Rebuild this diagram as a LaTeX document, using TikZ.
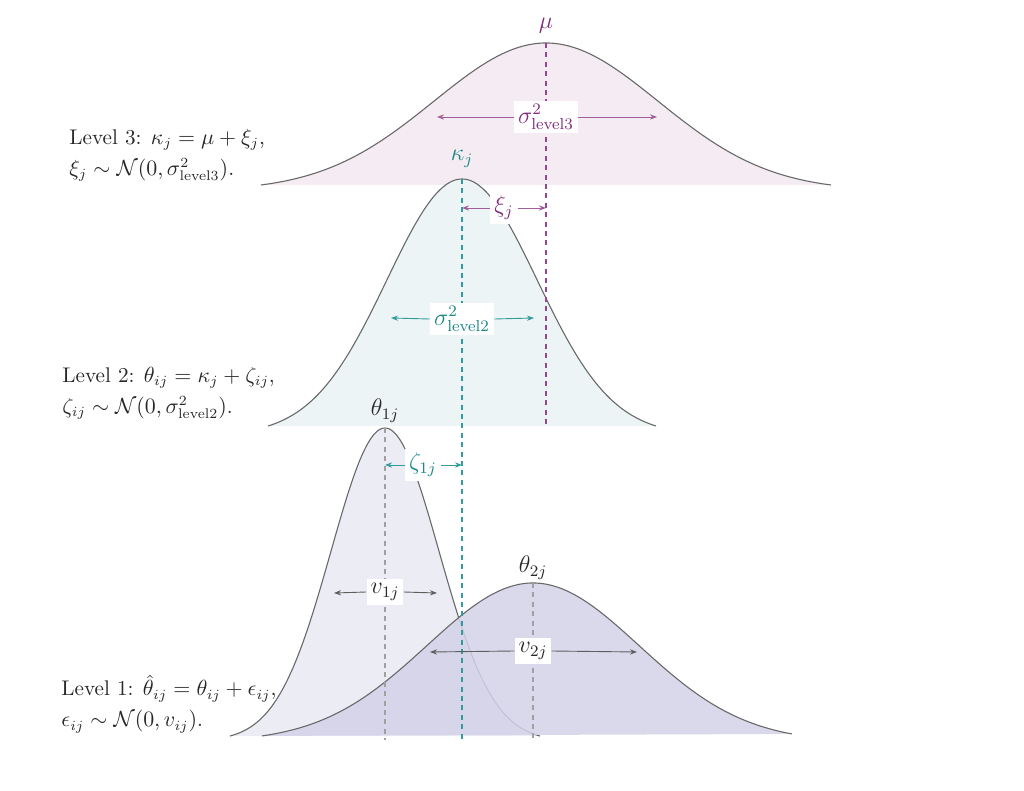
\documentclass[tikz,border=0pt]{standalone}
\usetikzlibrary{arrows.meta}
\definecolor{purp}{RGB}{130,45,125}
\definecolor{purpl}{RGB}{160,95,155}
\definecolor{purpd}{RGB}{150,70,145}
\definecolor{pinkfill}{RGB}{245,235,243}
\definecolor{tealc}{RGB}{30,135,135}
\definecolor{teald}{RGB}{50,155,155}
\definecolor{bluefill}{RGB}{236,244,246}
\definecolor{lavfill}{RGB}{236,236,244}
\definecolor{lavdark}{RGB}{212,210,233}
\definecolor{curvegray}{RGB}{105,105,105}
\definecolor{dashgray}{RGB}{160,160,160}
\definecolor{txt}{RGB}{40,40,40}
\begin{document}
\begin{tikzpicture}[x=0.5pt,y=-0.5pt,
  curve/.style={draw=curvegray,line width=0.55pt},
  vdash/.style={dash pattern=on 2.5pt off 2.2pt,line width=0.7pt},
  span/.style={->,>={Stealth[length=3.5pt,width=2.6pt]},line width=0.45pt},
  lbl/.style={font=\fontsize{12}{14}\selectfont, fill=white, inner sep=2pt},
  toplbl/.style={font=\fontsize{12}{14}\selectfont, inner sep=1pt},
  lvl/.style={font=\fontsize{10.6}{15.5}\selectfont, align=left, anchor=west, inner sep=0pt, text=txt},
  declare function={g(\t,\c,\s,\d)=(exp(-0.5*((\t-\c)/\s)^2)-exp(-0.5*(\d/\s)^2))/(1-exp(-0.5*(\d/\s)^2));}]
\useasboundingbox (0,0) rectangle (1024,791);

% ---- Level 3 ----
\fill[pinkfill] plot[domain=261:831,samples=161,smooth] (\x,{185-142*g(\x,546,112,285)}) -- cycle;
\draw[curve] plot[domain=261:831,samples=161,smooth] (\x,{185-142*g(\x,546,112,285)});

% ---- Level 2 ----
\fill[bluefill] plot[domain=268:656,samples=161,smooth] (\x,{426-247*g(\x,462,75,194)}) -- cycle;
\draw[curve] plot[domain=268:656,samples=161,smooth] (\x,{426-247*g(\x,462,75,194)});

% ---- Level 1, study 1 ----
\fill[lavfill] plot[domain=230:540,samples=161,smooth] (\x,{736-308*g(\x,385,54,155)}) -- cycle;
\draw[curve] plot[domain=230:540,samples=161,smooth] (\x,{736-308*g(\x,385,54,155)});

% ---- Level 1, study 2 ----
\fill[lavdark,opacity=0.85] plot[domain=262:792,samples=161,smooth] (\x,{735-152*g(\x,533,106,265)}) -- cycle;
\draw[curve] plot[domain=262:792,samples=161,smooth] (\x,{735-152*g(\x,533,106,265)});

% ---- coordinates ----
\coordinate (mutop) at (546,43);
\coordinate (mubot) at (546,428);
\coordinate (ktop) at (462,179);
\coordinate (kbot) at (462,740);
\coordinate (t1top) at (385,428);
\coordinate (t1bot) at (385,740);
\coordinate (t2top) at (533,583);
\coordinate (t2bot) at (533,740);

% ---- dashed lines ----
\draw[vdash,purpd] (mutop) -- (mubot);
\draw[vdash,teald] (ktop) -- (kbot);
\draw[vdash,dashgray] (t1top) -- (t1bot);
\draw[vdash,dashgray] (t2top) -- (t2bot);

% ---- labels ----
\node[toplbl,text=purp] (mu) at (546,26) {$\mu$};
\node[toplbl,text=tealc] (kap) at (462,159) {$\kappa_j$};
\node[toplbl,text=txt] (th1) at (385,411) {$\theta_{1j}$};
\node[toplbl,text=txt] (th2) at (533,568) {$\theta_{2j}$};

\node[lbl,text=purp] (s3) at (546,117) {$\sigma^2_{\mathrm{level3}}$};
\coordinate (s3l) at (437,117);
\coordinate (s3r) at (657,117);
\draw[span,purpl] (s3.west) -- (s3l);
\draw[span,purpl] (s3.east) -- (s3r);

\node[lbl,text=purp] (xi) at (504,208) {$\xi_j$};
\coordinate (xil) at (462,208);
\coordinate (xir) at (546,208);
\draw[span,purpl] (xi.west) -- (xil);
\draw[span,purpl] (xi.east) -- (xir);

\node[lbl,text=tealc] (s2) at (462,319) {$\sigma^2_{\mathrm{level2}}$};
\coordinate (s2l) at (391,318);
\coordinate (s2r) at (534,318);
\draw[span,teald] (s2.west) -- (s2l);
\draw[span,teald] (s2.east) -- (s2r);

\node[lbl,text=tealc] (ze) at (423,465) {$\zeta_{1j}$};
\coordinate (zel) at (385,465);
\coordinate (zer) at (462,465);
\draw[span,teald] (ze.west) -- (zel);
\draw[span,teald] (ze.east) -- (zer);

\node[lbl,text=txt] (v1) at (385,592) {$v_{1j}$};
\coordinate (v1l) at (334,593);
\coordinate (v1r) at (437,593);
\draw[span,txt!75] (v1.west) -- (v1l);
\draw[span,txt!75] (v1.east) -- (v1r);

\node[lbl,text=txt] (v2) at (533,651) {$v_{2j}$};
\coordinate (v2l) at (430,652);
\coordinate (v2r) at (637,652);
\draw[span,txt!75] (v2.west) -- (v2l);
\draw[span,txt!75] (v2.east) -- (v2r);

% ---- level texts ----
\node[lvl] (lv3) at (69,155) {Level 3: $\kappa_j=\mu+\xi_j$,\\ $\xi_j\sim\mathcal{N}(0,\sigma^2_{\mathrm{level3}})$.};
\node[lvl] (lv2) at (62,393) {Level 2: $\theta_{ij}=\kappa_j+\zeta_{ij}$,\\ $\zeta_{ij}\sim\mathcal{N}(0,\sigma^2_{\mathrm{level2}})$.};
\node[lvl] (lv1) at (61,704) {Level 1: $\hat{\theta}_{ij}=\theta_{ij}+\epsilon_{ij}$,\\ $\epsilon_{ij}\sim\mathcal{N}(0,v_{ij})$.};
\end{tikzpicture}
\end{document}
